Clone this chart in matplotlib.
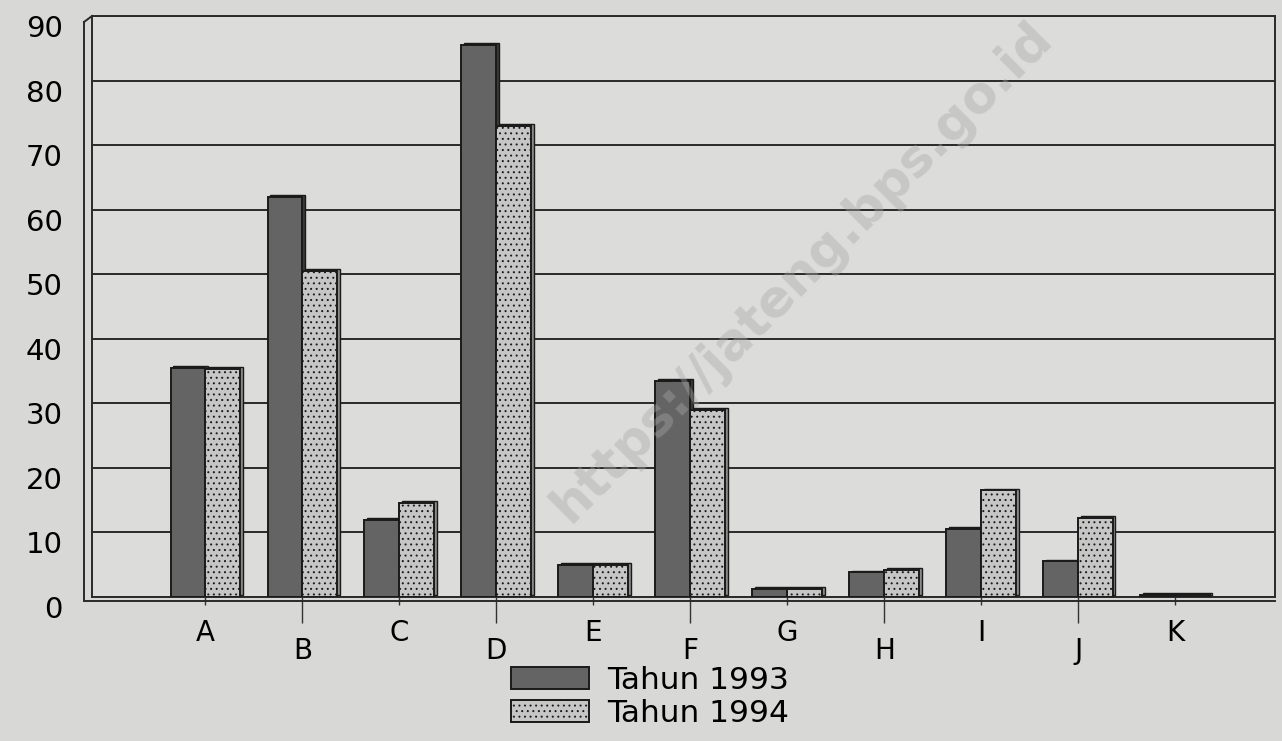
import matplotlib
matplotlib.use("Agg")
import matplotlib.pyplot as plt
from matplotlib.transforms import ScaledTranslation
from matplotlib.lines import Line2D
import numpy as np

plt.rcParams["font.family"] = ["DejaVu Sans"]
plt.rcParams["hatch.linewidth"] = 0.7

categories = ["A", "B", "C", "D", "E", "F", "G", "H", "I", "J", "K"]
tahun_1993 = [35.5, 62.0, 12.0, 85.5, 5.0, 33.5, 1.2, 3.8, 10.5, 5.5, 0.3]
tahun_1994 = [35.3, 50.5, 14.5, 73.0, 5.0, 29.0, 1.3, 4.2, 16.5, 12.3, 0.3]
series_labels = ["Tahun 1993", "Tahun 1994"]
y_ticks = [0, 10, 20, 30, 40, 50, 60, 70, 80, 90]

bg = "#d8d8d6"
fig = plt.figure(figsize=(12.82, 7.41), dpi=100)
fig.patch.set_facecolor(bg)
ax = fig.add_axes([92 / 1282, 1 - 597 / 741, (1275 - 92) / 1282, (597 - 16) / 741])
ax.set_facecolor("#dcdcda")

x = np.arange(len(categories))
w = 0.36
depth = 0.025

# thin side faces to give the bars a bit of depth
ax.bar(x - w / 2 + depth, tahun_1993, w, bottom=0.3, color="#3a3a3a", edgecolor="#1a1a1a",
       linewidth=1.0, zorder=2)
ax.bar(x + w / 2 + depth, tahun_1994, w, bottom=0.3, color="#8a8a8a", edgecolor="#1a1a1a",
       linewidth=1.0, zorder=2)
b1 = ax.bar(x - w / 2, tahun_1993, w, color="#646464", edgecolor="#1a1a1a",
            linewidth=1.4, zorder=3, label=series_labels[0])
b2 = ax.bar(x + w / 2, tahun_1994, w, color="#c6c6c6", edgecolor="#1a1a1a",
            linewidth=1.4, hatch="...", zorder=3, label=series_labels[1])

ax.set_xlim(-1.17, len(categories) - 1 + 1.03)
ax.set_ylim(0, 90)
ax.set_yticks(y_ticks)
ax.set_yticklabels([str(v) for v in y_ticks], fontsize=21)
ax.tick_params(axis="y", length=0, pad=21)
for lab in ax.get_yticklabels():
    lab.set_transform(lab.get_transform() + ScaledTranslation(0, -0.10, fig.dpi_scale_trans))

ax.set_xticks(x)
ax.set_xticklabels(categories, fontsize=20)
ax.tick_params(axis="x", direction="out", length=6, width=1.0, pad=10, color="#333333")
for i, tick in enumerate(ax.xaxis.get_major_ticks()):
    if i % 2 == 1:
        tick.tick1line.set_markersize(19)
        tick.label1.set_transform(tick.label1.get_transform()
                                  + ScaledTranslation(0, -0.18, fig.dpi_scale_trans))

ax.yaxis.grid(True, color="#2a2a2a", linewidth=1.4)
ax.set_axisbelow(True)
for s in ax.spines.values():
    s.set_color("#2a2a2a")
    s.set_linewidth(1.4)

# outer wall line and double floor line
fig.add_artist(Line2D([84 / 1282, 84 / 1282], [1 - 600 / 741, 1 - 22 / 741],
                      color="#2a2a2a", linewidth=1.4))
fig.add_artist(Line2D([84 / 1282, 92 / 1282], [1 - 22 / 741, 1 - 16 / 741],
                      color="#2a2a2a", linewidth=1.4))
fig.add_artist(Line2D([84 / 1282, 1275 / 1282], [1 - 601 / 741, 1 - 601 / 741],
                      color="#2a2a2a", linewidth=1.4))

fig.legend(handles=[b1, b2], labels=series_labels, loc="center",
           bbox_to_anchor=(650 / 1282, 1 - 697 / 741), frameon=False, fontsize=22.5,
           handlelength=2.5, handleheight=0.7, labelspacing=0.12, handletextpad=0.55,
           borderpad=0)

fig.text(802 / 1282, 1 - 272 / 741, "https://jateng.bps.go.id", rotation=45,
         fontsize=37, fontweight="bold", color="#a8a8a8", alpha=0.4,
         ha="center", va="center", zorder=10)

fig.savefig("out.png", dpi=100, facecolor=bg)
